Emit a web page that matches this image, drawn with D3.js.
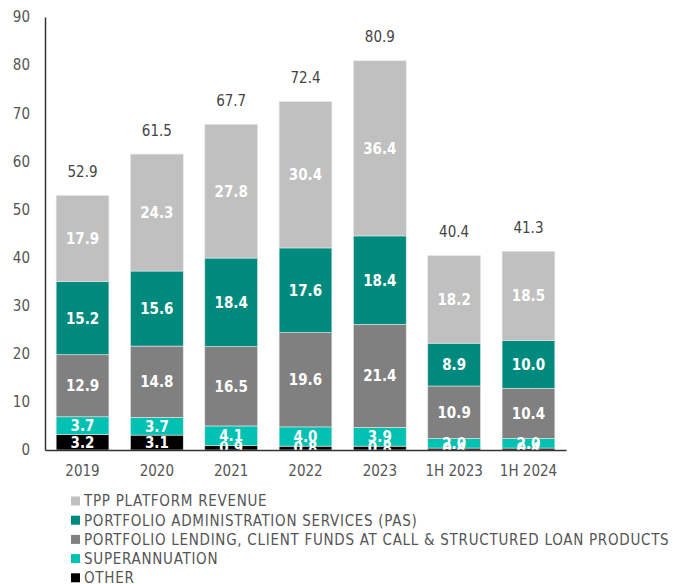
<!DOCTYPE html>
<html>
<head>
<meta charset="utf-8">
<script src="https://cdn.jsdelivr.net/npm/d3@7"></script>
<style>
  body { margin: 0; background: #fff; }
  text { font-family: "DejaVu Sans Condensed", "Roboto", sans-serif; }
</style>
</head>
<body>
<svg id="chart" width="673" height="584"></svg>
<script>
// Revenue by segment ($m)
const periods = ["2019", "2020", "2021", "2022", "2023", "1H 2023", "1H 2024"];
const other = [3.2, 3.1, 0.9, 0.8, 0.8, 0.4, 0.4];
const superannuation = [3.7, 3.7, 4.1, 4.0, 3.9, 2.0, 2.0];
const lending = [12.9, 14.8, 16.5, 19.6, 21.4, 10.9, 10.4];
const pas = [15.2, 15.6, 18.4, 17.6, 18.4, 8.9, 10.0];
const tpp = [17.9, 24.3, 27.8, 30.4, 36.4, 18.2, 18.5];
const totals = [52.9, 61.5, 67.7, 72.4, 80.9, 40.4, 41.3];
const yTicks = [0, 10, 20, 30, 40, 50, 60, 70, 80, 90];

const seriesDefs = [
  { key: "other", name: "OTHER", values: other, color: "#000000" },
  { key: "super", name: "SUPERANNUATION", values: superannuation, color: "#00c1b2" },
  { key: "lending", name: "PORTFOLIO LENDING, CLIENT FUNDS AT CALL & STRUCTURED LOAN PRODUCTS", values: lending, color: "#808080" },
  { key: "pas", name: "PORTFOLIO ADMINISTRATION SERVICES (PAS)", values: pas, color: "#008a7d" },
  { key: "tpp", name: "TPP PLATFORM REVENUE", values: tpp, color: "#c0c0c0" }
];

const rows = periods.map((p, i) => {
  const r = { period: p };
  seriesDefs.forEach(s => r[s.key] = s.values[i]);
  return r;
});

const layers = d3.stack().keys(seriesDefs.map(s => s.key))(rows);

const svg = d3.select("#chart");
const plot = { left: 45, right: 566, top: 17, bottom: 450 };

const x = d3.scaleBand().domain(periods).range([plot.left, plot.right])
  .paddingInner(0.29).paddingOuter(0.15);
const y = d3.scaleLinear().domain([0, 90]).range([plot.bottom, plot.top]);

// stacked segments
const g = svg.append("g");
layers.forEach((layer, li) => {
  const s = seriesDefs[li];
  g.selectAll(null).data(layer).enter().append("rect")
    .attr("x", d => x(d.data.period))
    .attr("width", x.bandwidth())
    .attr("y", d => y(d[1]))
    .attr("height", d => y(d[0]) - y(d[1]))
    .attr("fill", s.color)
    .attr("stroke", "#e6e6e6")
    .attr("stroke-width", 0.6);
});

// segment value labels
layers.forEach((layer, li) => {
  g.selectAll(null).data(layer).enter().append("text")
    .attr("x", d => x(d.data.period) + x.bandwidth() / 2)
    .attr("y", d => (y(d[0]) + y(d[1])) / 2)
    .attr("dy", "0.36em")
    .attr("text-anchor", "middle")
    .attr("fill", "#fff")
    .attr("font-size", 15)
    .attr("font-weight", "bold")
    .text((d, i) => seriesDefs[li].values[i].toFixed(1));
});

// totals above bars
g.selectAll(null).data(periods).enter().append("text")
  .attr("x", p => x(p) + x.bandwidth() / 2)
  .attr("y", (p, i) => y(totals[i]) - 24)
  .attr("dy", "0.36em")
  .attr("text-anchor", "middle")
  .attr("fill", "#444")
  .attr("font-size", 15)
  .text((p, i) => totals[i].toFixed(1));

// y axis
const yAxis = svg.append("g").attr("transform", `translate(${plot.left},0)`)
  .call(d3.axisLeft(y).tickValues(yTicks).tickSize(0).tickPadding(15));
yAxis.select(".domain").attr("stroke", "#333").attr("stroke-width", 1.5);
yAxis.selectAll("text").attr("fill", "#555").attr("font-size", 15)
  .style("font-family", '"DejaVu Sans Condensed", sans-serif');

// x axis
const xAxis = svg.append("g").attr("transform", `translate(0,${plot.bottom})`)
  .call(d3.axisBottom(x).tickSize(0).tickPadding(15));
xAxis.select(".domain").attr("stroke", "#333").attr("stroke-width", 1.5);
xAxis.selectAll("text").attr("fill", "#555").attr("font-size", 15)
  .style("font-family", '"DejaVu Sans Condensed", sans-serif');

// legend
const legendOrder = ["tpp", "pas", "lending", "super", "other"];
const lg = svg.append("g");
legendOrder.forEach((k, i) => {
  const s = seriesDefs.find(d => d.key === k);
  const yy = 501 + i * 19.2;
  lg.append("rect").attr("x", 71).attr("y", yy - 4.5).attr("width", 9).attr("height", 9).attr("fill", s.color);
  lg.append("text").attr("x", 84).attr("y", yy).attr("dy", "0.36em")
    .attr("fill", "#555").attr("font-size", 15).attr("letter-spacing", 0.72).text(s.name);
});
</script>
</body>
</html>
